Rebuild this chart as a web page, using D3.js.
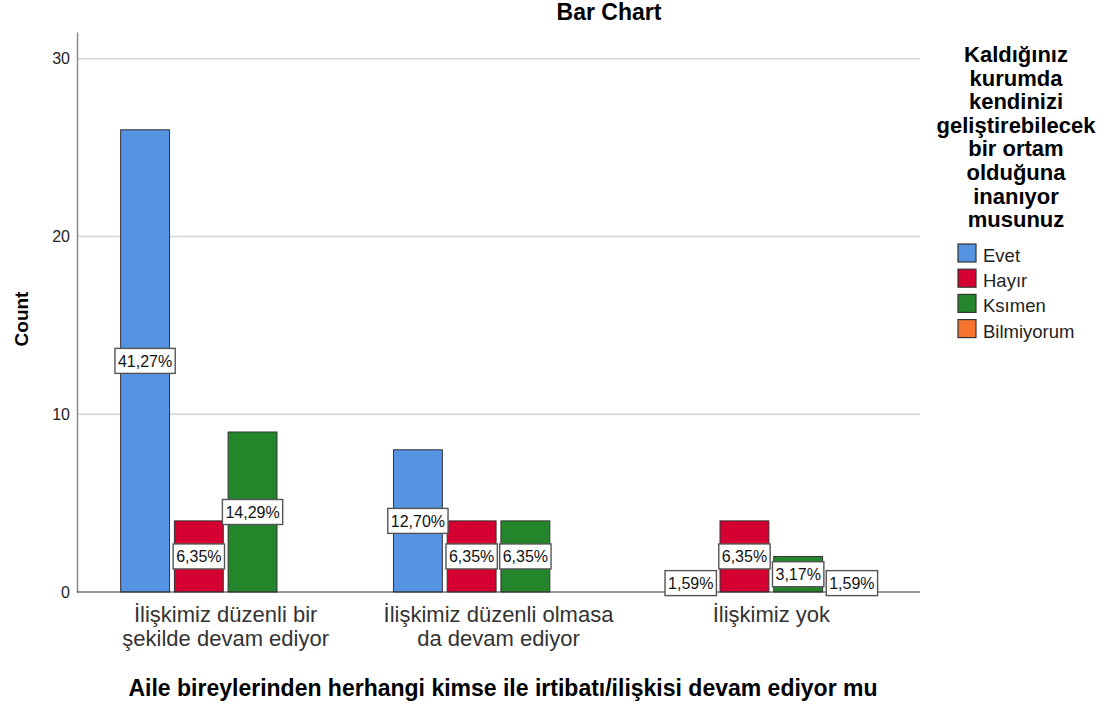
<!DOCTYPE html>
<html>
<head>
<meta charset="utf-8">
<script src="https://cdn.jsdelivr.net/npm/d3@7"></script>
<style>
  body { margin: 0; background: #fff; }
  text { font-family: Arial, "Liberation Sans", sans-serif; }
</style>
</head>
<body>
<svg id="chart" width="1111" height="707"></svg>
<script>
// data (counts, total 63)
var categories = [
  ["İlişkimiz düzenli bir", "şekilde devam ediyor"],
  ["İlişkimiz düzenli olmasa", "da devam ediyor"],
  ["İlişkimiz yok"]
];
var seriesNames = ["Evet", "Hayır", "Ksımen", "Bilmiyorum"];
var seriesColors = ["#5593e3", "#d50032", "#23862b", "#f5732e"];
var evetCounts = [26, 8, 1];
var hayirCounts = [4, 4, 4];
var ksimenCounts = [9, 4, 2];
var bilmiyorumCounts = [0, 0, 1];
var yTicks = [0, 10, 20, 30];
var legendTitle = ["Kaldığınız", "kurumda", "kendinizi", "geliştirebilecek", "bir ortam", "olduğuna", "inanıyor", "musunuz"];

var allCounts = [evetCounts, hayirCounts, ksimenCounts, bilmiyorumCounts];
var total = d3.sum(allCounts, function (s) { return d3.sum(s); });

var svg = d3.select("#chart");
var plot = { left: 77, right: 920, top: 32, bottom: 592 };

var x0 = d3.scaleBand()
  .domain(d3.range(categories.length))
  .range([plot.left, plot.right])
  .paddingInner(0.23)
  .paddingOuter(0.16);
var x1 = d3.scaleBand()
  .domain(d3.range(seriesNames.length))
  .range([0, x0.bandwidth()])
  .paddingInner(0.09);
var y = d3.scaleLinear().domain([0, 31.5]).range([plot.bottom, plot.top]);

// gridlines
svg.append("g")
  .selectAll("line")
  .data(yTicks.slice(1))
  .enter()
  .append("line")
  .attr("x1", plot.left).attr("x2", plot.right)
  .attr("y1", function (d) { return y(d); }).attr("y2", function (d) { return y(d); })
  .attr("stroke", "#d4d4d4").attr("stroke-width", 1.5);

// y axis
var yAxis = svg.append("g")
  .attr("transform", "translate(" + plot.left + ",0)")
  .call(d3.axisLeft(y).tickValues(yTicks).tickSize(0).tickPadding(7));
yAxis.select(".domain").attr("stroke", "#8a8a8a").attr("stroke-width", 1.5);
yAxis.selectAll("text").style("font-size", "16px").attr("fill", "#222");

// bars
var barData = [];
categories.forEach(function (c, ci) {
  allCounts.forEach(function (s, si) {
    barData.push({ cat: ci, ser: si, value: s[ci] });
  });
});

svg.append("g")
  .selectAll("rect")
  .data(barData.filter(function (d) { return d.value > 0; }))
  .enter()
  .append("rect")
  .attr("x", function (d) { return x0(d.cat) + x1(d.ser); })
  .attr("y", function (d) { return y(d.value); })
  .attr("width", x1.bandwidth())
  .attr("height", function (d) { return y(0) - y(d.value); })
  .attr("fill", function (d) { return seriesColors[d.ser]; })
  .attr("stroke", "#333")
  .attr("stroke-width", 1);

// baseline
svg.append("line")
  .attr("x1", plot.left).attr("x2", plot.right)
  .attr("y1", y(0)).attr("y2", y(0))
  .attr("stroke", "#333").attr("stroke-width", 1);

// percent labels
var labels = svg.append("g")
  .selectAll("g")
  .data(barData.filter(function (d) { return d.value > 0; }))
  .enter()
  .append("g")
  .attr("transform", function (d) {
    var cx = x0(d.cat) + x1(d.ser) + x1.bandwidth() / 2;
    var cy = y(d.value / 2);
    return "translate(" + cx + "," + cy + ")";
  });
labels.append("rect").attr("class", "lblbox");
labels.append("text")
  .attr("text-anchor", "middle")
  .attr("dy", "0.36em")
  .style("font-size", "16px")
  .attr("fill", "#111")
  .text(function (d) {
    return (d.value / total * 100).toFixed(2).replace(".", ",") + "%";
  });
labels.each(function () {
  var g = d3.select(this);
  var w = g.select("text").node().getComputedTextLength() + 6;
  g.select("rect")
    .attr("x", -w / 2).attr("y", -12.5)
    .attr("width", w).attr("height", 25)
    .attr("fill", "#fff")
    .attr("stroke", "#555")
    .attr("stroke-width", 1.4);
});

// category labels
var catText = svg.append("g")
  .selectAll("text")
  .data(categories)
  .enter()
  .append("text")
  .attr("x", function (d, i) { return x0(i) + x0.bandwidth() / 2; })
  .attr("y", 622)
  .attr("text-anchor", "middle")
  .style("font-size", "22px")
  .attr("fill", "#333");
catText.selectAll("tspan")
  .data(function (d) { return d; })
  .enter()
  .append("tspan")
  .attr("x", function () { return d3.select(this.parentNode).attr("x"); })
  .attr("dy", function (d, i) { return i === 0 ? 0 : 24; })
  .text(function (d) { return d; });

// titles
svg.append("text")
  .attr("x", 609).attr("y", 20)
  .attr("text-anchor", "middle")
  .style("font-size", "23px").style("font-weight", "bold")
  .text("Bar Chart");

svg.append("text")
  .attr("transform", "translate(28,319) rotate(-90)")
  .attr("text-anchor", "middle")
  .style("font-size", "19px").style("font-weight", "bold")
  .text("Count");

svg.append("text")
  .attr("x", 503).attr("y", 696)
  .attr("text-anchor", "middle")
  .style("font-size", "23px").style("font-weight", "bold")
  .text("Aile bireylerinden herhangi kimse ile irtibatı/ilişkisi devam ediyor mu");

// legend
var legend = svg.append("g");
legend.selectAll("text.lt")
  .data(legendTitle)
  .enter()
  .append("text")
  .attr("class", "lt")
  .attr("x", 1016)
  .attr("y", function (d, i) { return 62 + i * 23.6; })
  .attr("text-anchor", "middle")
  .style("font-size", "22px").style("font-weight", "bold")
  .text(function (d) { return d; });

var items = legend.selectAll("g.item")
  .data(seriesNames)
  .enter()
  .append("g")
  .attr("class", "item")
  .attr("transform", function (d, i) { return "translate(958," + (244 + i * 25.2) + ")"; });
items.append("rect")
  .attr("width", 18).attr("height", 18)
  .attr("fill", function (d, i) { return seriesColors[i]; })
  .attr("stroke", "#333").attr("stroke-width", 1.2);
items.append("text")
  .attr("x", 25).attr("y", 18)
  .style("font-size", "18.5px")
  .attr("fill", "#222")
  .text(function (d) { return d; });
</script>
</body>
</html>
